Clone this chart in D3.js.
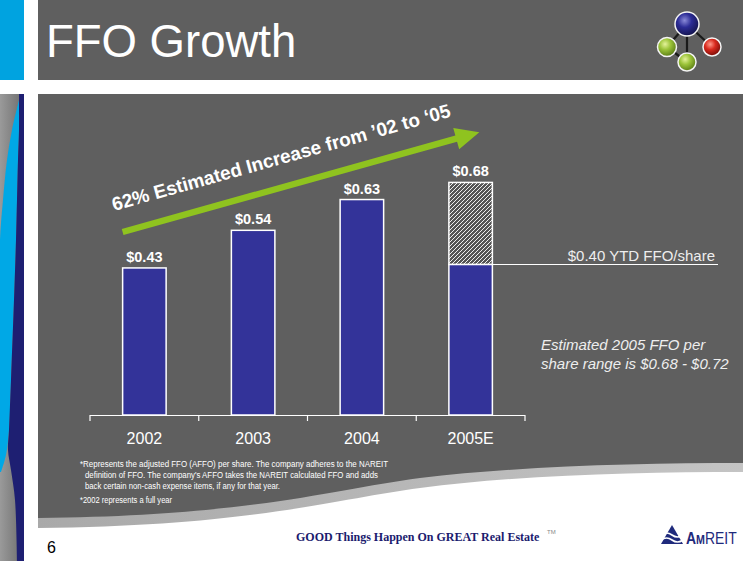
<!DOCTYPE html>
<html><head><meta charset="utf-8">
<script src="https://cdn.jsdelivr.net/npm/d3@7"></script>
<style>html,body{margin:0;padding:0;background:#fff;}svg{display:block;}</style>
</head><body>
<script>
// ---- data ----
const categories = ["2002", "2003", "2004", "2005E"];
const values = [0.43, 0.54, 0.63, 0.68];
const ytdCategory = "2005E";
const ytdDrawnValue = 0.44;            // level of the solid (YTD) part as drawn
const ytdLabel = "$0.40 YTD FFO/share";
const arrowText = "62% Estimated Increase from \u201902 to \u201805";
const rangeNote = ["Estimated 2005 FFO per", "share range is $0.68 - $0.72"];
const footnotes = [
  "*Represents the adjusted FFO (AFFO) per share.  The company adheres to the NAREIT",
  "definition of FFO. The company's AFFO takes the NAREIT calculated FFO and adds",
  "back certain non-cash expense items, if any for that year.",
  "*2002 represents  a full year"
];
const title = "FFO Growth";
const slogan = "GOOD Things Happen On GREAT Real Estate";
const pageNumber = "6";

const W = 756, H = 561;
const FONT = "'Liberation Sans', Arial, sans-serif";
const svg = d3.select("body").append("svg").attr("width", W).attr("height", H);
const defs = svg.append("defs");

// gradients
const gStripe = defs.append("linearGradient").attr("id", "gStripe").attr("x1", 0).attr("x2", 1);
gStripe.append("stop").attr("offset", 0).attr("stop-color", "#9a9a9a");
gStripe.append("stop").attr("offset", 1).attr("stop-color", "#6c6c6c");
function ball(id, light, mid, dark) {
  const g = defs.append("radialGradient").attr("id", id).attr("cx", 0.4).attr("cy", 0.35).attr("r", 0.65);
  g.append("stop").attr("offset", 0).attr("stop-color", light);
  g.append("stop").attr("offset", 0.45).attr("stop-color", mid);
  g.append("stop").attr("offset", 1).attr("stop-color", dark);
}
ball("bBlue", "#8a8ad8", "#2c2c96", "#151550");
ball("bGreen", "#e4f29a", "#9cc43a", "#5d7f16");
ball("bRed", "#ff9a8a", "#d92a1e", "#7a0d08");
const gBand = defs.append("linearGradient").attr("id", "gBand").attr("x1", 0).attr("x2", 1);
gBand.append("stop").attr("offset", 0).attr("stop-color", "#a9a9a9");
gBand.append("stop").attr("offset", 1).attr("stop-color", "#c4c4c4");

// hatch pattern
const pat = defs.append("pattern").attr("id", "hatch").attr("patternUnits", "userSpaceOnUse")
  .attr("width", 4).attr("height", 4);
pat.append("rect").attr("width", 4).attr("height", 4).attr("fill", "#555");
pat.append("path").attr("d", "M-1,1 l2,-2 M0,4 l4,-4 M3,5 l2,-2")
  .attr("stroke", "#fff").attr("stroke-width", 0.9);

// ---- page decoration ----
svg.append("rect").attr("x", 0).attr("y", 0).attr("width", 24).attr("height", 80).attr("fill", "#00a3e0");
svg.append("rect").attr("x", 38).attr("y", 0).attr("width", 705).attr("height", 80).attr("fill", "#5f5f5f");
// left stripe
svg.append("rect").attr("x", 0).attr("y", 94).attr("width", 24).attr("height", 467).attr("fill", "url(#gStripe)");
const curve = d3.line().curve(d3.curveCatmullRom);
const blueRight = [[19, 100], [19, 130], [18, 160], [17, 200], [16, 240], [14, 300], [11, 380], [9, 430], [6, 455], [1, 472]];
const blueLeft = [[0, 472], [0, 300], [0, 240], [3, 200], [7, 160], [12, 130], [19, 100]];
svg.append("path").attr("fill", "#00a8e6").attr("d", curve(blueRight) + curve(blueLeft).replace(/^M/, "L") + "Z");
const navyLeft = [[19, 94], [19, 130], [18, 160], [17, 200], [16, 240], [14, 300], [11, 380], [9, 430], [8, 450], [11, 470], [15, 500], [17, 561]];
svg.append("path").attr("fill", "#1e1f72").attr("d", curve(navyLeft) + "L24,561L24,94Z");

// main panel with swoosh bottom
svg.append("path").attr("fill", "url(#gBand)")
  .attr("d", "M38,94 H743 V472 C640,472 520,475 420,488 C330,500 250,526 38,528 Z");
svg.append("path").attr("fill", "#5f5f5f")
  .attr("d", "M38,94 H743 V463 C640,463 520,466 420,478 C330,490 250,516 38,518 Z");

// title
svg.append("text").attr("x", 46).attr("y", 57).attr("fill", "#fff")
  .attr("font-family", FONT).attr("font-size", 45.5).text(title);

// molecule logo
const mol = svg.append("g");
const balls = [
  {x: 667, y: 47, r: 9.5, f: "bGreen"},
  {x: 687, y: 62, r: 9, f: "bGreen"},
  {x: 712, y: 47, r: 9, f: "bRed"},
  {x: 687, y: 24, r: 12, f: "bBlue"}
];
[[3, 0], [3, 1], [3, 2], [0, 1]].forEach(([a, b]) => {
  mol.append("line").attr("x1", balls[a].x).attr("y1", balls[a].y).attr("x2", balls[b].x).attr("y2", balls[b].y)
    .attr("stroke", "#1a1a1a").attr("stroke-width", 2.2);
});
balls.forEach(b => mol.append("circle").attr("cx", b.x).attr("cy", b.y).attr("r", b.r)
  .attr("fill", `url(#${b.f})`).attr("stroke", "#f4f4f4").attr("stroke-width", 1.5));

// ---- chart ----
const x = d3.scaleBand().domain(categories).range([90, 525]).paddingInner(0.6).paddingOuter(0.3);
const y = d3.scaleLinear().domain([0, 1]).range([415, 73]);
const fmt = d3.format("$.2f");
const g = svg.append("g");

// bars
const data = categories.map((c, i) => ({c, v: values[i]}));
data.forEach(d => {
  if (d.c === ytdCategory) {
    g.append("rect").attr("x", x(d.c)).attr("y", y(d.v)).attr("width", x.bandwidth())
      .attr("height", y(ytdDrawnValue) - y(d.v)).attr("fill", "url(#hatch)")
      .attr("stroke", "#fff").attr("stroke-width", 1.5);
    g.append("rect").attr("x", x(d.c)).attr("y", y(ytdDrawnValue)).attr("width", x.bandwidth())
      .attr("height", y(0) - y(ytdDrawnValue)).attr("fill", "#333399")
      .attr("stroke", "#fff").attr("stroke-width", 1.5);
  } else {
    g.append("rect").attr("x", x(d.c)).attr("y", y(d.v)).attr("width", x.bandwidth())
      .attr("height", y(0) - y(d.v)).attr("fill", "#333399")
      .attr("stroke", "#fff").attr("stroke-width", 1.5);
  }
  g.append("text").attr("x", x(d.c) + x.bandwidth() / 2).attr("y", y(d.v) - 6)
    .attr("text-anchor", "middle").attr("fill", "#fff").attr("font-family", FONT)
    .attr("font-weight", "bold").attr("font-size", 14.5).text(fmt(d.v));
});

// axis
const axis = d3.axisBottom(x).tickSize(0).tickPadding(18);
const ax = g.append("g").attr("transform", `translate(0,${y(0)})`).call(axis);
ax.select(".domain").attr("stroke", "#fff").attr("stroke-width", 1.2).attr("d", "M90,0.5H525");
ax.selectAll(".tick text").attr("fill", "#fff").attr("font-family", FONT).attr("font-size", 16);
const step = x.step();
const bounds = [x(categories[0]) - (step - x.bandwidth()) / 2]
  .concat(categories.map(c => x(c) + x.bandwidth() + (step - x.bandwidth()) / 2));
ax.selectAll(".bnd").data(bounds).enter().append("line")
  .attr("x1", d => d).attr("x2", d => d).attr("y1", 0).attr("y2", 6)
  .attr("stroke", "#fff").attr("stroke-width", 1.2);

// YTD line + label
g.append("line").attr("x1", x(ytdCategory) + x.bandwidth()).attr("x2", 718)
  .attr("y1", y(ytdDrawnValue)).attr("y2", y(ytdDrawnValue)).attr("stroke", "#fff").attr("stroke-width", 1.2);
g.append("text").attr("x", 715).attr("y", y(ytdDrawnValue) - 4).attr("text-anchor", "end")
  .attr("fill", "#eeeeee").attr("font-family", FONT).attr("font-size", 15).text(ytdLabel);

// range note
rangeNote.forEach((t, i) => g.append("text").attr("x", 541).attr("y", 350 + i * 18.5)
  .attr("fill", "#eeeeee").attr("font-family", FONT).attr("font-style", "italic")
  .attr("font-size", 15).text(t));

// growth arrow
const S = [x(categories[0]), y(0.535)];
const T = [x(ytdCategory) + x.bandwidth() * 0.7, y(0.827)];
const dx = T[0] - S[0], dy = T[1] - S[1], L = Math.hypot(dx, dy);
const u = [dx / L, dy / L], n = [-u[1], u[0]];
const headL = 24, headW = 11, shaftW = 3.2;
const B = [T[0] - headL * u[0], T[1] - headL * u[1]];
const pts = [
  [S[0] + shaftW * n[0], S[1] + shaftW * n[1]],
  [B[0] + shaftW * n[0], B[1] + shaftW * n[1]],
  [B[0] + headW * n[0], B[1] + headW * n[1]],
  T,
  [B[0] - headW * n[0], B[1] - headW * n[1]],
  [B[0] - shaftW * n[0], B[1] - shaftW * n[1]],
  [S[0] - shaftW * n[0], S[1] - shaftW * n[1]]
];
g.append("polygon").attr("points", pts.map(p => p.join(",")).join(" ")).attr("fill", "#8fc31f");
const ang = Math.atan2(dy, dx) * 180 / Math.PI;
g.append("text").attr("transform", `translate(114,211) rotate(${ang})`)
  .attr("fill", "#fff").attr("font-family", FONT).attr("font-weight", "bold")
  .attr("font-size", 19).text(arrowText);

// footnotes
const fnX = [80, 85, 85, 80], fnY = [467, 478, 489, 503], fnW = [308, 293, 195, 92];
footnotes.forEach((t, i) => svg.append("text").attr("x", fnX[i]).attr("y", fnY[i])
  .attr("fill", "#fff").attr("font-family", FONT).attr("font-size", 8.5)
  .attr("textLength", fnW[i]).attr("lengthAdjust", "spacingAndGlyphs").text(t));

// footer
svg.append("text").attr("x", 47).attr("y", 553).attr("fill", "#000").attr("font-family", FONT)
  .attr("font-size", 16).text(pageNumber);
svg.append("text").attr("transform", "translate(296,541) scale(0.89,1)").attr("fill", "#1b1b6e")
  .attr("font-family", "'Liberation Serif', 'Times New Roman', serif").attr("font-weight", "bold")
  .attr("font-size", 13.5).text(slogan);
svg.append("text").attr("x", 547).attr("y", 534).attr("fill", "#888")
  .attr("font-family", FONT).attr("font-size", 6).text("TM");

// AmREIT logo
const lg = svg.append("g");
lg.append("path").attr("fill", "#1f2a7c").attr("d", "M661,544 L672,525 L683,544 Z");
[0, 5].forEach(o => lg.append("path")
  .attr("d", `M661,${535 + o} q5.5,-4 11,0 t11,0`).attr("fill", "none")
  .attr("stroke", "#fff").attr("stroke-width", 1.6));
const lt = lg.append("text").attr("transform", "translate(686,544) scale(0.82,1)").attr("fill", "#1f2a7c")
  .attr("font-family", FONT);
lt.append("tspan").attr("font-weight", "bold").attr("font-size", 17).text("A");
lt.append("tspan").attr("font-weight", "bold").attr("font-size", 13).text("M");
lt.append("tspan").attr("font-size", 17).attr("font-weight", "normal").text("REIT");
</script>
</body></html>
